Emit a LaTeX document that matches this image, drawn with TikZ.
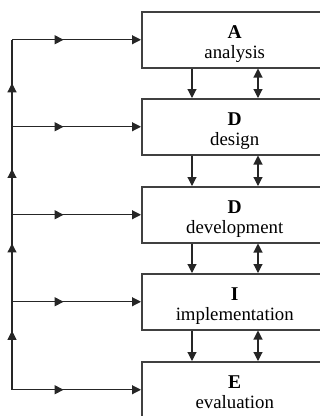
\documentclass[tikz,border=0pt]{standalone}
\usepackage{fontspec}
\setmainfont{Liberation Serif}
\usetikzlibrary{arrows.meta,decorations.markings}
\newcommand{\topstrut}{\rule{0pt}{21bp}}
\newcommand{\botstrut}{\rule[-4bp]{0pt}{4bp}}
\begin{document}
\begin{tikzpicture}[x=1bp,y=-1bp,
  box/.style={draw=black!75, line width=1.5bp, minimum width=186bp, minimum height=56bp,
    inner sep=0pt, align=center, anchor=north west,
    font=\fontsize{18.8bp}{20bp}\selectfont},
  tipend/.style={-{Triangle[length=9bp,width=9bp]}},
  tipboth/.style={{Triangle[length=9bp,width=9bp]}-{Triangle[length=9bp,width=9bp]}},
  flow/.style={draw=black!85, line width=1.1bp},
  midarrow/.style={postaction={decorate}, decoration={markings,
    mark=at position #1 with {\arrow{Triangle[length=9bp,width=9bp]}}}}
]
\useasboundingbox (0,0) rectangle (320,416);
\clip (0,0) rectangle (320,416);

\node[box] (A) at (141,11) {\topstrut{\fontsize{19.5bp}{20bp}\selectfont\textbf{A}}\\analysis\botstrut};
\node[box] (D) at (141,98) {\topstrut{\fontsize{19.5bp}{20bp}\selectfont\textbf{D}}\\design\botstrut};
\node[box] (V) at (141,186) {\topstrut{\fontsize{19.5bp}{20bp}\selectfont\textbf{D}}\\development\botstrut};
\node[box] (I) at (141,273) {\topstrut{\fontsize{19.5bp}{20bp}\selectfont\textbf{I}}\\implementation\botstrut};
\node[box] (E) at (141,361) {\topstrut{\fontsize{19.5bp}{20bp}\selectfont\textbf{E}}\\evaluation\botstrut};

% spine coordinates
\path (A.west) ++(-129,0) coordinate (s1);
\path (D.west) ++(-129,0) coordinate (s2);
\path (V.west) ++(-129,0) coordinate (s3);
\path (I.west) ++(-129,0) coordinate (s4);
\path (E.west) ++(-129,0) coordinate (s5);

% spine
\draw[flow, midarrow=0.67] (s5) -- (s4);
\draw[flow, midarrow=0.67] (s4) -- (s3);
\draw[flow, midarrow=0.52] (s3) -- (s2);
\draw[flow, midarrow=0.5] (s2) -- (s1);

% horizontal feeds
\foreach \s/\b in {s1/A, s2/D, s3/V, s4/I, s5/E}
  \draw[flow, tipend, midarrow=0.4] (\s) -- (\b.west);

% between boxes
\foreach \a/\b in {A/D, D/V, V/I, I/E}{
  \draw[flow, tipend] ([xshift=51bp]\a.south west) -- ([xshift=51bp]\b.north west);
  \draw[flow, tipboth] ([xshift=117bp]\a.south west) -- ([xshift=117bp]\b.north west);
}
\end{tikzpicture}
\end{document}
